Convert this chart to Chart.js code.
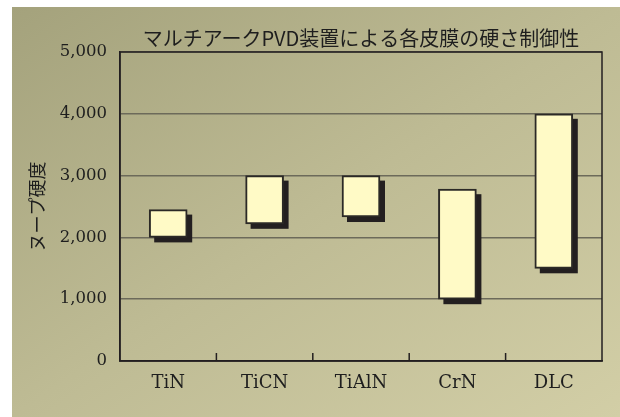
<!DOCTYPE html>
<html>
<head>
<meta charset="utf-8">
<script src="https://cdn.jsdelivr.net/npm/chart.js@4.4.0/dist/chart.umd.min.js"></script>
<style>
  html, body { margin: 0; padding: 0; background: #ffffff; }
  #wrap {
    position: absolute; left: 12px; top: 7px; width: 608px; height: 410px;
    background: linear-gradient(to bottom right, #a4a27c 0%, #bebb94 50%, #d2cea6 100%);
  }
</style>
</head>
<body>
<div id="wrap"><canvas id="chart0"></canvas></div>
<script>
/** Data **/
const materials = ["TiN", "TiCN", "TiAlN", "CrN", "DLC"];
const hardnessMin = [2000, 2220, 2330, 1000, 1500];
const hardnessMax = [2450, 3000, 3000, 2780, 4000];
const yTicks = [0, 1000, 2000, 3000, 4000, 5000];

const chartTitle = "マルチアークPVD装置による各皮膜の硬さ制御性";
const yTitle = "ヌープ硬度";

const inkColor = "#231f20";

// drop shadow behind each floating bar (offset down-right)
const barShadow = {
  id: "barShadow",
  beforeDatasetsDraw: function(chart) {
    var ctx = chart.ctx;
    var meta = chart.getDatasetMeta(0);
    ctx.save();
    ctx.fillStyle = inkColor;
    meta.data.forEach(function(bar) {
      var p = bar.getProps(["x", "y", "base", "width"], true);
      var top = Math.min(p.y, p.base);
      var bottom = Math.max(p.y, p.base);
      ctx.fillRect(p.x - p.width / 2 + 5, top + 5, p.width, bottom - top);
    });
    ctx.restore();
  }
};

// plot frame + inward tick marks on the category axis
const plotFrame = {
  id: "plotFrame",
  afterDatasetsDraw: function(chart) {
    var ctx = chart.ctx;
    var a = chart.chartArea;
    var xs = chart.scales.x;
    ctx.save();
    ctx.strokeStyle = inkColor;
    ctx.lineWidth = 1.5;
    ctx.strokeRect(a.left, a.top, a.right - a.left, a.bottom - a.top);
    ctx.beginPath();
    for (var i = 0; i < materials.length - 1; i++) {
      var bx = (xs.getPixelForValue(i) + xs.getPixelForValue(i + 1)) / 2;
      ctx.moveTo(bx, a.bottom);
      ctx.lineTo(bx, a.bottom - 8);
    }
    ctx.stroke();
    ctx.restore();
  }
};

var ctx = document.getElementById("chart0");
var chart = new Chart(ctx, {
  type: "bar",
  data: {
    labels: materials,
    datasets: [{
      data: materials.map(function(m, i) { return [hardnessMin[i], hardnessMax[i]]; }),
      backgroundColor: "#fffac6",
      borderColor: "#2b2926",
      borderWidth: 2,
      borderSkipped: false,
      barThickness: 38
    }]
  },
  options: {
    responsive: true,
    maintainAspectRatio: false,
    animation: false,
    devicePixelRatio: 1,
    layout: {
      padding: { left: 0, right: 18, top: 0, bottom: 0 }
    },
    plugins: {
      legend: { display: false },
      tooltip: { enabled: false },
      title: {
        display: true,
        text: chartTitle,
        fullSize: false,
        color: "#1e1e1e",
        font: { family: "'Noto Sans CJK JP', sans-serif", size: 20, weight: "normal" },
        padding: { top: 19, bottom: 2 }
      }
    },
    scales: {
      x: {
        grid: { display: false, drawTicks: false },
        border: { display: true, color: inkColor, width: 1.5 },
        ticks: {
          color: "#1e1e1e",
          padding: 12,
          font: { family: "'DejaVu Serif', serif", size: 18 }
        },
        afterFit: function(scale) { scale.height = 56; }
      },
      y: {
        min: 0,
        max: 5000,
        afterBuildTicks: function(scale) {
          scale.ticks = yTicks.map(function(v) { return { value: v }; });
        },
        grid: { color: "#6c6a5a", lineWidth: 1.5, drawTicks: false },
        border: { display: true, color: inkColor, width: 1.5 },
        ticks: {
          color: "#1e1e1e",
          padding: 13,
          font: { family: "'DejaVu Serif', serif", size: 16.5 },
          callback: function(value) { return value.toLocaleString("en-US"); }
        },
        title: {
          display: true,
          text: yTitle,
          color: "#1e1e1e",
          font: { family: "'Noto Sans CJK JP', sans-serif", size: 18 },
          padding: { top: 14, bottom: 0 }
        },
        afterFit: function(scale) { scale.width = 108; }
      }
    }
  },
  plugins: [barShadow, plotFrame]
});
</script>
</body>
</html>
